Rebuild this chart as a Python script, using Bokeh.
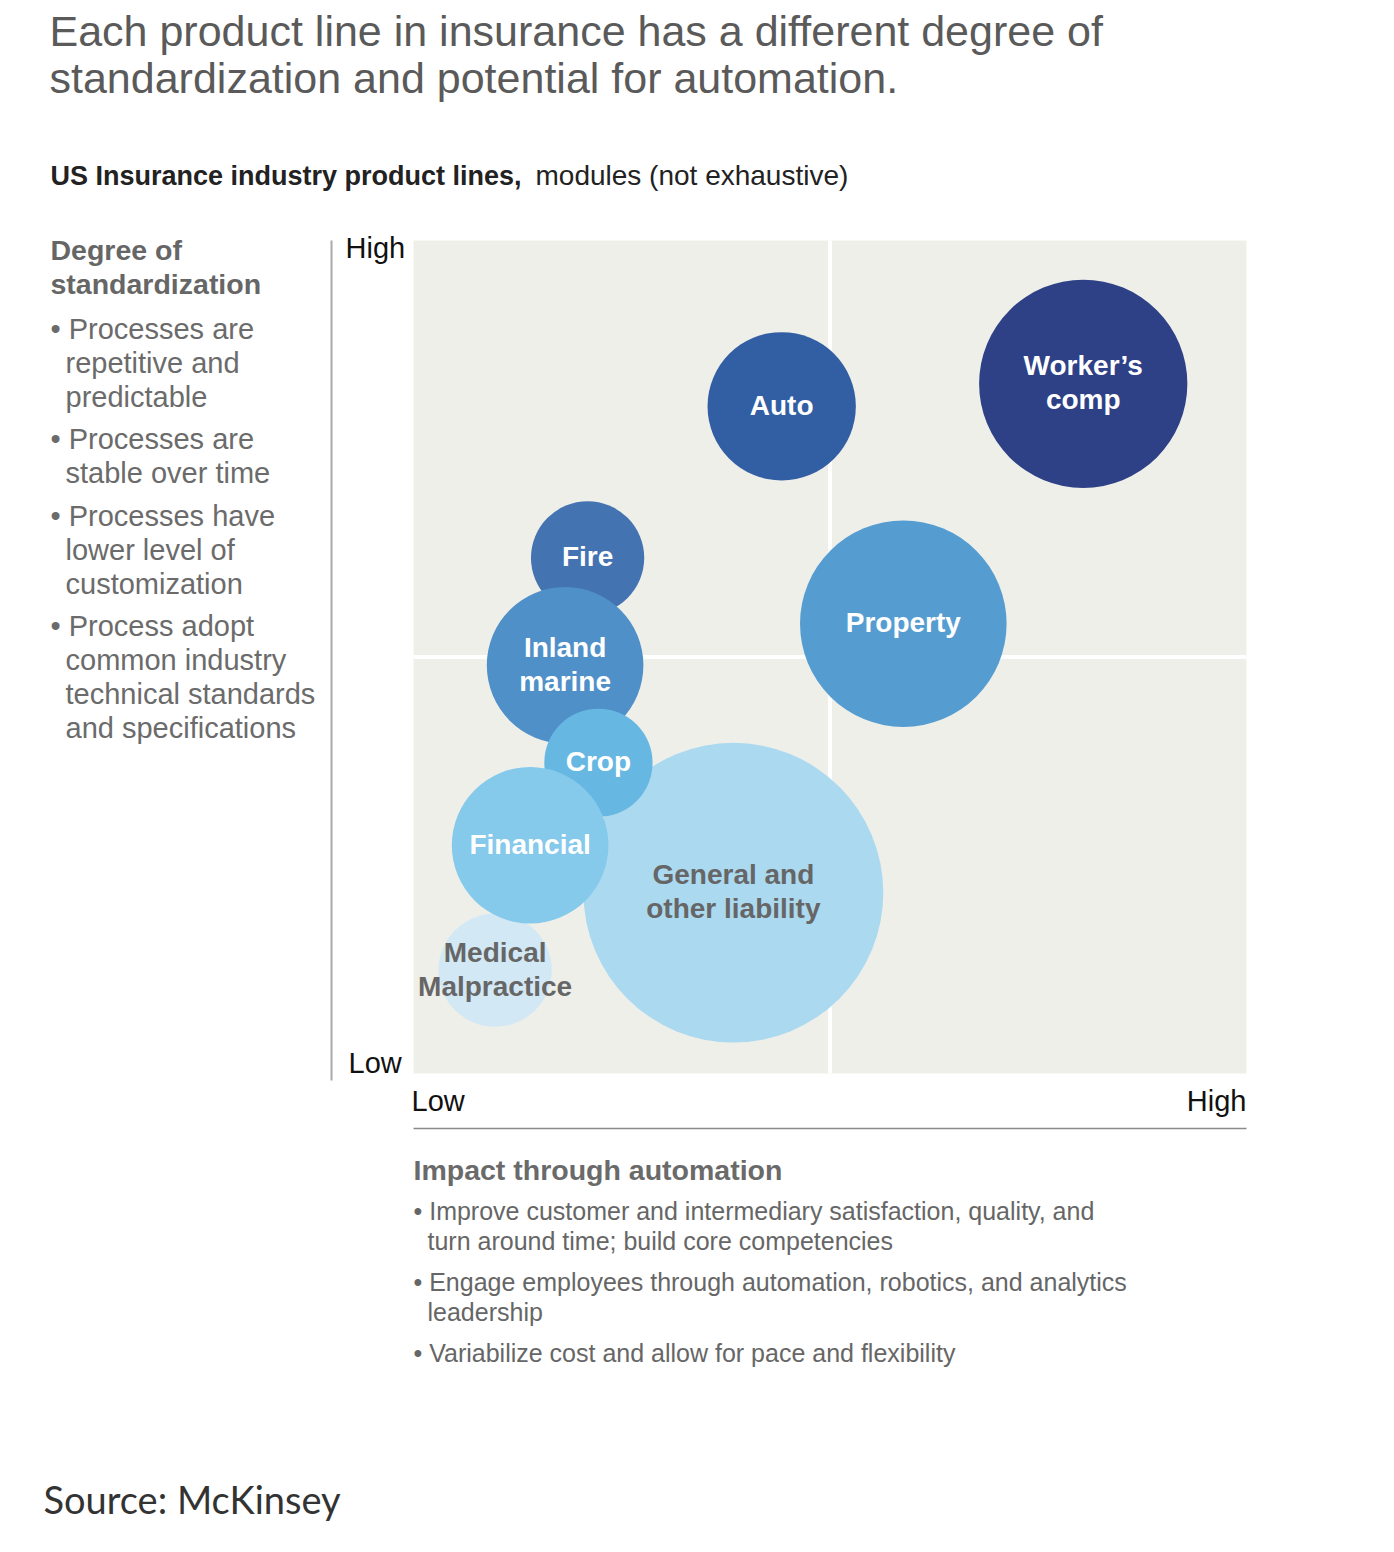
from bokeh.plotting import figure
from bokeh.models import Range1d, Label, LabelSet, ColumnDataSource
from bokeh.embed import file_html
from bokeh.resources import INLINE
from bokeh.core.properties import field, value

# ---------------- data ----------------
products = ["General and\nother liability", "Medical\nMalpractice", "Fire", "Inland\nmarine",
            "Crop", "Financial", "Auto", "Worker\u2019s\ncomp", "Property"]
automation = [3.84, 0.98, 2.09, 1.82, 2.22, 1.40, 4.42, 8.04, 5.88]        # x: impact through automation (0-10)
standardization = [2.17, 1.24, 6.19, 4.90, 3.73, 2.74, 8.01, 8.28, 5.40]   # y: degree of standardization (0-10)
bubble_size = [1.80, 0.68, 0.68, 0.94, 0.65, 0.94, 0.89, 1.25, 1.24]       # radius, same units
bubble_colors = ["#abd9f0", "#d3e8f5", "#4473b2", "#5090c8", "#67b7e3",
                 "#85c9eb", "#325ea3", "#2e4186", "#559dd1"]
label_colors = ["#666666", "#666666", "white", "white", "white",
                "white", "white", "white", "white"]

axis_ticks = ["Low", "High"]
title_lines = ["Each product line in insurance has a different degree of",
               "standardization and potential for automation."]
subtitle_bold = "US Insurance industry product lines,"
subtitle_regular = "modules (not exhaustive)"
y_heading = ["Degree of", "standardization"]
y_bullets = [["Processes are", "repetitive and", "predictable"],
             ["Processes are", "stable over time"],
             ["Processes have", "lower level of", "customization"],
             ["Process adopt", "common industry", "technical standards", "and specifications"]]
x_heading = "Impact through automation"
x_bullets = [["Improve customer and intermediary satisfaction, quality, and",
              "turn around time; build core competencies"],
             ["Engage employees through automation, robotics, and analytics",
              "leadership"],
             ["Variabilize cost and allow for pace and flexibility"]]
source_note = "Source: McKinsey"

# ---------------- layout ----------------
W, H = 1378, 1536
M = 0                      # canvas offset on the page
QL, QR, QT, QB = 413, 1246, 240, 1073   # quadrant frame in canvas px
S = (QR - QL) / 10.0       # px per data unit
FONT = "Liberation Sans"

def px2x(px):   # page px -> data x
    return (px - M - QL) / S

def py2y(py):   # page px -> data y
    return (QB - (py - M)) / S

p = figure(width=W, height=H,
           x_range=Range1d(-QL / S, (W - QL) / S),
           y_range=Range1d((QB - H) / S, QB / S),
           output_backend="svg", toolbar_location=None,
           x_axis_location=None, y_axis_location=None,
           min_border=0, outline_line_color=None)
p.grid.visible = False
p.background_fill_color = "white"
p.border_fill_color = "white"

# quadrant background and dividers
p.quad(left=[0], right=[10], bottom=[0], top=[10], fill_color="#efefea", line_color=None)
p.segment(x0=[5, 0], y0=[0, 5], x1=[5, 10], y1=[10, 5], line_color="white", line_width=4)

# frame lines
p.segment(x0=[px2x(331)], y0=[py2y(240)], x1=[px2x(331)], y1=[py2y(1080)],
          line_color="#aaaaaa", line_width=2)
p.segment(x0=[0], y0=[py2y(1128)], x1=[10], y1=[py2y(1128)],
          line_color="#8a8a8a", line_width=1.5)

src = ColumnDataSource(dict(x=automation, y=standardization, r=bubble_size,
                            fill=bubble_colors))
p.circle(x="x", y="y", radius="r", source=src, fill_color="fill", line_color=None)

# bubble labels, one row per text line so every line is centred
LINE_STEP = 34
lx, ly, lt, lc, loff = [], [], [], [], []
for name, xv, yv, col in zip(products, automation, standardization, label_colors):
    parts = name.split("\n")
    n = len(parts)
    for k, part in enumerate(parts):
        lx.append(xv)
        ly.append(yv)
        lt.append(part)
        lc.append(col)
        loff.append(((n - 1) / 2.0 - k) * LINE_STEP + 1)
lsrc = ColumnDataSource(dict(x=lx, y=ly, t=lt, c=lc, off=loff))
p.add_layout(LabelSet(x="x", y="y", text="t", source=lsrc, y_offset="off",
                      text_color=field("c"), text_align="center", text_baseline="middle",
                      text_font=value(FONT), text_font_style="bold",
                      text_font_size="28px"))

DY = -2   # small vertical nudge for the free texts

def txt(s, x, y, size, color, bold=False, align="left", font=FONT):
    p.add_layout(Label(x=x - M, y=H - (y + DY - M), x_units="screen", y_units="screen",
                       text=s, text_font=font, text_font_size=f"{size}px",
                       text_font_style="bold" if bold else "normal",
                       text_color=color, text_align=align, text_baseline="middle"))

# title
for i, line in enumerate(title_lines):
    txt(line, 49, 32 + i * 47, 43, "#5a5a5a")
txt(subtitle_bold, 50, 177, 27, "#222222", bold=True)
txt(subtitle_regular, 535, 177, 28, "#222222")

# y axis description
for i, line in enumerate(y_heading):
    txt(line, 50, 251 + i * 34, 28.5, "#666666", bold=True)
yy = 330
for group in y_bullets:
    for j, line in enumerate(group):
        if j == 0:
            txt("\u2022 " + line, 50, yy, 29, "#6b6b6b")
        else:
            txt(line, 65, yy, 29, "#6b6b6b")
        yy += 34
    yy += 8.5

# axis tick labels
txt(axis_ticks[1], 345, 249, 29, "#111111")
txt(axis_ticks[0], 348, 1064, 29, "#111111")
txt(axis_ticks[0], 411, 1102, 29, "#111111")
txt(axis_ticks[1], 1246, 1102, 29, "#111111", align="right")

# x axis description
txt(x_heading, 413, 1171, 28.5, "#6a6a6a", bold=True)
yy = 1212
for group in x_bullets:
    for j, line in enumerate(group):
        if j == 0:
            txt("\u2022 " + line, 413, yy, 25, "#666666")
        else:
            txt(line, 427, yy, 25, "#666666")
        yy += 30
    yy += 11

txt(source_note, 43, 1500, 38, "#333333", font="Lato")

open("out.html", "w").write(file_html(p, INLINE))
